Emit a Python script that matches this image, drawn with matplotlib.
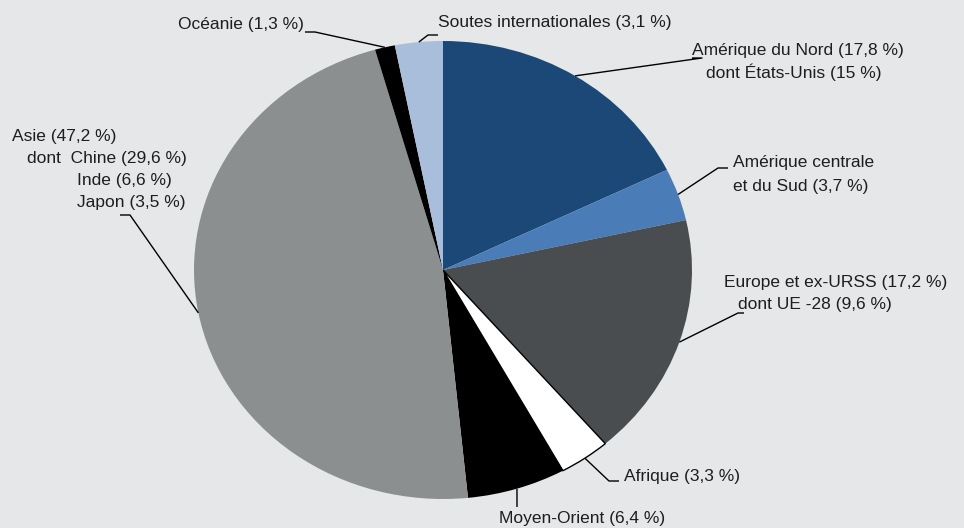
import numpy as np
import matplotlib.pyplot as plt

# shares of world total (%)
regions = ['Amérique du Nord', 'Amérique centrale et du Sud', 'Europe et ex-URSS',
           'Afrique', 'Moyen-Orient', 'Asie', 'Océanie', 'Soutes internationales']
shares = [17.8, 3.7, 17.2, 3.3, 6.4, 47.2, 1.3, 3.1]
colors = ['#1b4876', '#4a7cb8', '#4a4d4f', '#ffffff', '#000000', '#8c8f90', '#000000', '#a9bedb']

# label text, one entry per region (list of lines)
label_lines = [
    ['Amérique du Nord (17,8 %)', 'dont États-Unis (15 %)'],
    ['Amérique centrale', 'et du Sud (3,7 %)'],
    ['Europe et ex-URSS (17,2 %)', 'dont UE -28 (9,6 %)'],
    ['Afrique (3,3 %)'],
    ['Moyen-Orient (6,4 %)'],
    ['Asie (47,2 %)', 'dont  Chine (29,6 %)', 'Inde (6,6 %)', 'Japon (3,5 %)'],
    ['Océanie (1,3 %)'],
    ['Soutes internationales (3,1 %)'],
]

# layout in pixels: text line anchors (x, y, ha), leader elbow and end
text_pos = [
    [(692, 50, 'left'), (706, 72, 'left')],
    [(733, 163, 'left'), (733, 186, 'left')],
    [(724, 283, 'left'), (738, 305, 'left')],
    [(624, 477, 'left')],
    [(499, 519, 'left')],
    [(12, 136, 'left'), (27, 158, 'left'), (77, 180, 'left'), (77, 202, 'left')],
    [(304, 25, 'right')],
    [(438, 23, 'left')],
]
leaders = [
    [(702, 58), (692, 58)],
    [(718, 168), (728, 168)],
    [(738, 313), (744, 313)],
    [(609, 481), (619, 481)],
    [(517, 507)],
    [(130, 215), (120, 215)],
    [(315, 32), (305, 32)],
    [(428, 35), (438, 35)],
]

W, H = 964, 528
bg = '#e6e7e8'
plt.rcParams['font.family'] = ['Liberation Sans', 'DejaVu Sans']

fig = plt.figure(figsize=(W / 100, H / 100), dpi=100, facecolor=bg)
ax = fig.add_axes([194 / W, 29 / H, 498 / W, 458 / H])
wedges, _ = ax.pie(shares, colors=colors, startangle=90, counterclock=False, radius=1)
for w in wedges:
    w.set_linewidth(0)
wedges[3].set_edgecolor('black')
wedges[3].set_linewidth(1.0)
ax.set_aspect('auto')
ax.set_xlim(-1, 1)
ax.set_ylim(-1, 1)
ax.set_facecolor(bg)

ov = fig.add_axes([0, 0, 1, 1], facecolor='none')
ov.set_xlim(0, W)
ov.set_ylim(H, 0)
ov.axis('off')

fig.canvas.draw()
for w, lines, pos, lead in zip(wedges, label_lines, text_pos, leaders):
    mid = np.deg2rad((w.theta1 + w.theta2) / 2)
    p = ax.transData.transform((np.cos(mid), np.sin(mid)))
    x0, y0 = ov.transData.inverted().transform(p)
    xs = [x0] + [q[0] for q in lead]
    ys = [y0] + [q[1] for q in lead]
    ov.plot(xs, ys, color='black', lw=1.0, solid_capstyle='butt')
    for txt, (tx, ty, ha) in zip(lines, pos):
        ov.text(tx, ty, txt, ha=ha, va='center', fontsize=12.5, color='#1e1e1e')

fig.savefig('out.png', dpi=100, facecolor=bg)
